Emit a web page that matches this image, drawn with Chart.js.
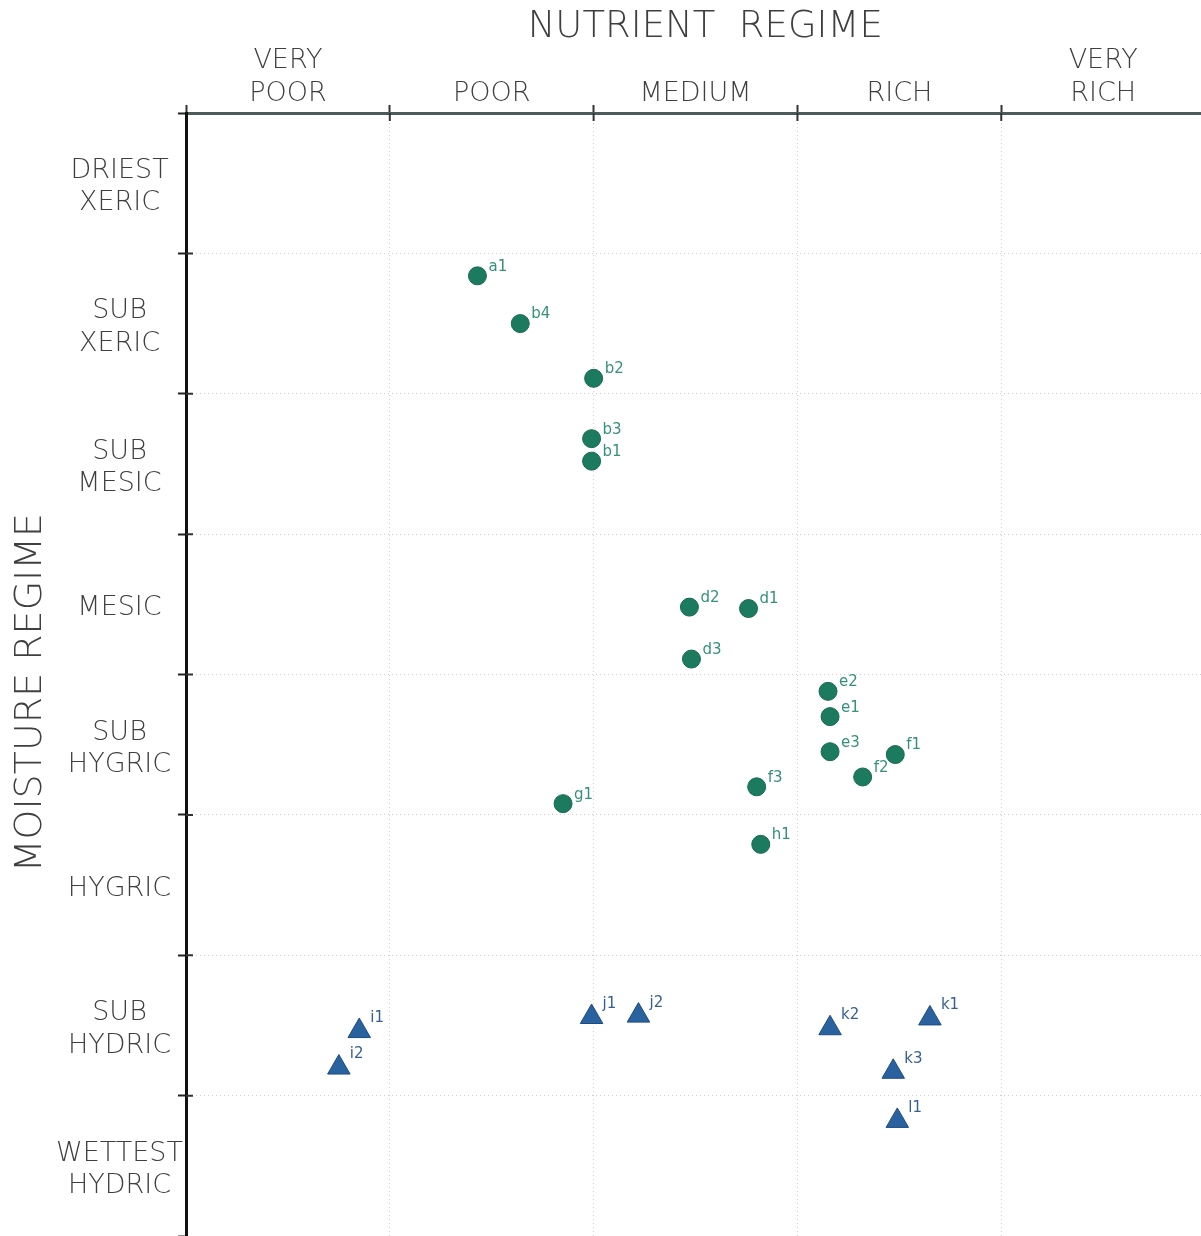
<!DOCTYPE html>
<html>
<head>
<meta charset="utf-8">
<script src="https://cdn.jsdelivr.net/npm/chart.js@4.4.1/dist/chart.umd.min.js"></script>
<style>
  html, body { margin: 0; padding: 0; background: #fff; }
  #wrap { width: 1201px; height: 1236px; }
</style>
</head>
<body>
<div id="wrap"><canvas id="regimeChart"></canvas></div>
<script>
// nutrient classes, left to right
const nutrientLabels = [["VERY", "POOR"], "POOR", "MEDIUM", "RICH", ["VERY", "RICH"]];
// moisture classes, top (driest) to bottom (wettest)
const moistureLabels = [["DRIEST", "XERIC"], ["SUB", "XERIC"], ["SUB", "MESIC"], "MESIC",
  ["SUB", "HYGRIC"], "HYGRIC", ["SUB", "HYDRIC"], ["WETTEST", "HYDRIC"]];

// upland plots (circles) - position in class units
const uplandNames = ["a1", "b4", "b2", "b3", "b1", "d2", "d1", "d3", "e2", "e1", "e3", "f1", "f2", "f3", "g1", "h1"];
const uplandNutrient = [1.43, 1.64, 2.00, 1.99, 1.99, 2.47, 2.76, 2.48, 3.15, 3.16, 3.16, 3.48, 3.32, 2.80, 1.85, 2.82];
const uplandMoisture = [1.16, 1.50, 1.89, 2.32, 2.48, 3.52, 3.53, 3.89, 4.12, 4.30, 4.55, 4.57, 4.73, 4.80, 4.92, 5.21];

// wetland plots (triangles)
const wetNames = ["i1", "i2", "j1", "j2", "k2", "k1", "k3", "l1"];
const wetNutrient = [0.85, 0.75, 1.99, 2.22, 3.16, 3.65, 3.47, 3.49];
const wetMoisture = [6.54, 6.80, 6.44, 6.43, 6.52, 6.45, 6.83, 7.18];

const FONT = "'DejaVu Sans', 'Liberation Sans', sans-serif";
const TEXT = "#3f3f3f";

function toPoints(xs, ys) {
  return xs.map((x, i) => ({ x: x, y: ys[i] }));
}

// class boundaries plus half-way ticks that carry the class names
function halfTicks(n) {
  const t = [];
  for (let i = 0; i < n; i++) {
    t.push({ value: i });
    t.push({ value: i + 0.5 });
  }
  t.push({ value: n });
  return t;
}

const isBoundary = (c) => c.tick && Math.abs(c.tick.value % 1) < 1e-6;

// names next to each marker
const pointLabels = {
  id: "pointLabels",
  afterDatasetsDraw(chart) {
    const ctx = chart.ctx;
    ctx.save();
    ctx.font = "15px " + FONT;
    ctx.textBaseline = "middle";
    ctx.textAlign = "left";
    chart.data.datasets.forEach((ds, di) => {
      const meta = chart.getDatasetMeta(di);
      ctx.fillStyle = ds.labelColor;
      meta.data.forEach((pt, i) => {
        ctx.fillText(ds.names[i], pt.x + ds.labelDx, pt.y + ds.labelDy);
      });
    });
    ctx.restore();
  }
};

// tick marks that cross the axis line into the plot
const innerTicks = {
  id: "innerTicks",
  afterDraw(chart) {
    const ctx = chart.ctx;
    const xs = chart.scales.x;
    const ys = chart.scales.y;
    const area = chart.chartArea;
    ctx.save();
    ctx.strokeStyle = "#333";
    ctx.lineWidth = 2;
    ctx.beginPath();
    for (let i = 1; i < nutrientLabels.length; i++) {
      const px = xs.getPixelForValue(i);
      ctx.moveTo(px, area.top);
      ctx.lineTo(px, area.top + 8);
    }
    for (let i = 1; i < moistureLabels.length; i++) {
      const py = ys.getPixelForValue(i);
      ctx.moveTo(area.left, py);
      ctx.lineTo(area.left + 7, py);
    }
    ctx.stroke();
    ctx.restore();
  }
};

const ctx = document.getElementById("regimeChart").getContext("2d");
new Chart(ctx, {
  type: "scatter",
  data: {
    datasets: [
      {
        label: "Upland",
        data: toPoints(uplandNutrient, uplandMoisture),
        names: uplandNames,
        pointStyle: "circle",
        pointRadius: 9,
        backgroundColor: "#1c7a5e",
        borderColor: "#176a51",
        borderWidth: 1,
        labelColor: "#34917a",
        labelDx: 11,
        labelDy: -9
      },
      {
        label: "Wetland",
        data: toPoints(wetNutrient, wetMoisture),
        names: wetNames,
        pointStyle: "triangle",
        pointRadius: 13,
        backgroundColor: "#2a62a0",
        borderColor: "#1d4b80",
        borderWidth: 1,
        labelColor: "#345f92",
        labelDx: 11,
        labelDy: -13
      }
    ]
  },
  options: {
    responsive: true,
    maintainAspectRatio: false,
    animation: false,
    layout: { autoPadding: false, padding: 0 },
    plugins: {
      legend: { display: false },
      tooltip: { enabled: false }
    },
    scales: {
      x: {
        type: "linear",
        position: "top",
        min: 0,
        max: 4.98,
        afterBuildTicks: (scale) => { scale.ticks = halfTicks(nutrientLabels.length); },
        afterFit: (scale) => {
          scale.height = 113;
          scale.paddingLeft = 0;
          scale.paddingRight = 0;
        },
        ticks: {
          autoSkip: false,
          maxRotation: 0,
          padding: -5,
          color: TEXT,
          font: { family: FONT, size: 27, weight: "200", lineHeight: 1.2 },
          callback: (v) => (v % 1 === 0.5 ? nutrientLabels[Math.floor(v)] : "")
        },
        grid: {
          color: (c) => (isBoundary(c) ? "#cfcfcf" : "rgba(0,0,0,0)"),
          tickColor: (c) => (isBoundary(c) ? "#333" : "rgba(0,0,0,0)"),
          tickLength: 8,
          tickWidth: 2,
          lineWidth: 1
        },
        border: { display: true, color: "#4c5a5a", width: 3, dash: [1, 3] },
        title: {
          display: true,
          text: "  NUTRIENT  REGIME",
          color: TEXT,
          font: { family: FONT, size: 37, weight: "200" },
          padding: { top: 5, bottom: 4 }
        }
      },
      y: {
        type: "linear",
        position: "left",
        reverse: true,
        min: 0,
        max: 8,
        afterBuildTicks: (scale) => { scale.ticks = halfTicks(moistureLabels.length); },
        afterFit: (scale) => {
          scale.width = 186;
          scale.paddingTop = 0;
          scale.paddingBottom = 0;
        },
        ticks: {
          autoSkip: false,
          crossAlign: "center",
          padding: -5,
          labelOffset: 4,
          color: TEXT,
          font: { family: FONT, size: 27, weight: "200", lineHeight: 1.2 },
          callback: (v) => (v % 1 === 0.5 ? moistureLabels[Math.floor(v)] : "")
        },
        grid: {
          color: (c) => (isBoundary(c) ? "#cfcfcf" : "rgba(0,0,0,0)"),
          tickColor: (c) => (isBoundary(c) ? "#222" : "rgba(0,0,0,0)"),
          tickLength: 8,
          tickWidth: 2,
          lineWidth: 1
        },
        border: { display: true, color: "#111", width: 3, dash: [1, 3] },
        title: {
          display: true,
          text: "MOISTURE REGIME   ",
          color: TEXT,
          font: { family: FONT, size: 38, weight: "200" },
          padding: { top: 8, bottom: 0 }
        }
      }
    }
  },
  plugins: [pointLabels, innerTicks]
});
</script>
</body>
</html>
